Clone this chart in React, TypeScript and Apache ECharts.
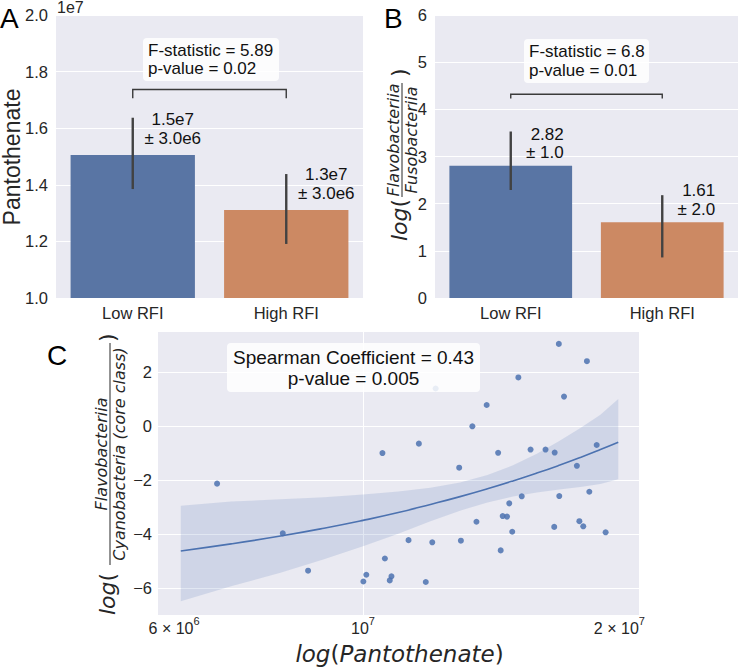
import React, { useEffect, useRef } from "react";
import * as echarts from "echarts";

// ---------- data ----------
const groups = ["Low RFI", "High RFI"];
const barColors = ["#5975A4", "#CC8963"];

// Panel A: Pantothenate
const pantoMean = [1.505e7, 1.311e7];
const pantoErrLow = [1.385e7, 1.191e7];
const pantoErrHigh = [1.637e7, 1.438e7];
const pantoText = ["1.5e7\n± 3.0e6", "1.3e7\n± 3.0e6"];
const pantoBracket = [1.737e7, 1.706e7];
const pantoStats = ["F-statistic = 5.89", "p-value = 0.02"];

// Panel B: log(Flavobacteriia / Fusobacteriia)
const ratioMean = [2.805, 1.605];
const ratioErrLow = [2.29, 0.86];
const ratioErrHigh = [3.53, 2.18];
const ratioText = ["2.82\n± 1.0", "1.61\n± 2.0"];
const ratioBracket = [4.32, 4.23];
const ratioStats = ["F-statistic = 6.8", "p-value = 0.01"];

// Panel C: scatter + regression
const scatterX = [
  6.74e6, 8.05e6, 8.62e6, 1.054e7, 1.061e7, 1.009e7, 1.001e7, 1.08e7, 1.075e7,
  1.698e7, 1.832e7, 1.522e7, 1.722e7, 1.397e7, 1.344e7, 1.163e7, 1.881e7, 1.441e7,
  1.573e7, 1.638e7, 1.679e7, 1.297e7, 1.783e7, 1.844e7, 1.7e7, 1.536e7, 1.485e7,
  1.459e7, 1.476e7, 1.359e7, 1.497e7, 1.677e7, 1.795e7, 1.814e7, 1.927e7, 1.131e7,
  1.206e7, 1.303e7, 1.451e7, 1.185e7, 1.217e7,
];
const scatterY = [
  -2.13, -3.97, -5.35, -1.0, -4.9, -5.5, -5.75, -5.56, -5.71,
  3.04, 2.4, 1.8, 1.09, 0.78, -0.01, -0.65, -0.7, -0.99,
  -0.87, -0.87, -0.98, -1.54, -1.47, -2.43, -2.59, -2.6, -2.86,
  -3.33, -3.35, -3.54, -3.91, -3.73, -3.52, -3.71, -3.93, -4.22,
  -4.3, -4.24, -4.6, -5.77, 1.39,
];
const fitX = [6.11e6, 7e6, 8e6, 9e6, 1e7, 1.1e7, 1.2e7, 1.3e7, 1.4e7, 1.5e7, 1.6e7, 1.7e7, 1.8e7, 1.9e7, 1.994e7];
const fitY = [-4.62, -4.36, -4.07, -3.78, -3.49, -3.2, -2.9, -2.61, -2.32, -2.03, -1.74, -1.45, -1.16, -0.87, -0.6];
const fitLow = [-6.48, -5.93, -5.43, -4.93, -4.45, -3.98, -3.52, -3.13, -2.83, -2.61, -2.46, -2.35, -2.25, -2.14, -1.97];
const fitHigh = [-2.95, -2.79, -2.71, -2.63, -2.53, -2.42, -2.28, -2.09, -1.81, -1.45, -1.02, -0.55, -0.07, 0.42, 1.0];
const cXLabelValues = [6e6, 1e7, 2e7];
const cXGridValues = [1e7];
const cYTicks = [-6, -4, -2, 0, 2];
const cStats = ["Spearman Coefficient = 0.43", "p-value = 0.005"];

// ---------- styling ----------
const SANS = '"Liberation Sans", Arial, sans-serif';
const MATH = '"DejaVu Sans", sans-serif';
const BG = "#EAEAF2";
const TXT = "#262626";
const ERR = "#424242";

function errRender(texts: string[], dx: number, align: string) {
  return (params: any, api: any) => {
    const i = api.value(0);
    const bot = api.coord([i, api.value(1)]);
    const top = api.coord([i, api.value(2)]);
    const lab = api.coord([i, api.value(3)]);
    return {
      type: "group",
      children: [
        {
          type: "line",
          shape: { x1: top[0], y1: top[1], x2: bot[0], y2: bot[1] },
          style: { stroke: ERR, lineWidth: 2.4 },
        },
        {
          type: "text",
          x: lab[0] + dx,
          y: lab[1] - 9.5,
          style: {
            text: texts[params.dataIndex],
            fill: "#111",
            fontFamily: SANS,
            fontSize: 17,
            lineHeight: 18.5,
            align,
            verticalAlign: "top",
          },
        },
      ],
    };
  };
}

function bracketRender(params: any, api: any) {
  const a0 = api.coord([api.value(0), api.value(3)]);
  const a1 = api.coord([api.value(0), api.value(2)]);
  const b1 = api.coord([api.value(1), api.value(2)]);
  const b0 = api.coord([api.value(1), api.value(3)]);
  return {
    type: "polyline",
    shape: { points: [a0, a1, b1, b0] },
    style: { stroke: "#3a3a3a", lineWidth: 1.4, fill: null },
  };
}

function bandRender(params: any, api: any) {
  const pts: number[][] = [];
  for (let i = 0; i < fitX.length; i++) pts.push(api.coord([fitX[i], fitHigh[i]]));
  for (let i = fitX.length - 1; i >= 0; i--) pts.push(api.coord([fitX[i], fitLow[i]]));
  return {
    type: "polygon",
    shape: { points: pts },
    style: { fill: "rgba(76,114,176,0.17)" },
  };
}

function text(x: number, y: number, t: string, extra: any = {}) {
  return {
    type: "text",
    x,
    y,
    z: 20,
    style: {
      text: t,
      fill: "#111",
      fontFamily: SANS,
      fontSize: 17,
      align: "left",
      verticalAlign: "middle",
      ...extra,
    },
  };
}

function fracLabel(x: number, y: number, num: string, den: string, fracStart: number, fracEnd: number, closeAt: number, offN: number, offD: number) {
  const mid = (fracStart + fracEnd) / 2;
  const it = { fontFamily: MATH, fontStyle: "italic", fontSize: 16, fill: TXT, align: "center", verticalAlign: "middle" };
  return {
    type: "group",
    x,
    y,
    rotation: Math.PI / 2,
    z: 20,
    children: [
      {
        type: "text",
        x: 0,
        y: -3,
        style: {
          text: "{i|log}(",
          fontFamily: MATH,
          fontSize: 22,
          fill: TXT,
          align: "left",
          verticalAlign: "middle",
          rich: { i: { fontFamily: MATH, fontStyle: "italic", fontSize: 22, fill: TXT } },
        },
      },
      { type: "text", x: mid, y: offN, style: { ...it, text: num } },
      { type: "line", shape: { x1: fracStart, y1: 0, x2: fracEnd, y2: 0 }, style: { stroke: TXT, lineWidth: 1 } },
      { type: "text", x: mid, y: offD, style: { ...it, text: den } },
      {
        type: "text",
        x: closeAt,
        y: -3,
        style: { text: ")", fontFamily: MATH, fontSize: 22, fill: TXT, align: "left", verticalAlign: "middle" },
      },
    ],
  };
}

function supLabel(v: number) {
  const e = Math.floor(Math.log10(v) + 1e-9);
  const m = Math.round(v / Math.pow(10, e));
  return m === 1 ? `{n|10}{s|${e}}` : `{n|${m} × 10}{s|${e}}`;
}

export default function App() {
  const ref = useRef<HTMLDivElement>(null);
  useEffect(() => {
    if (!ref.current) return;
    const chart = echarts.init(ref.current, null, { renderer: "svg" });
    const gridBase = { show: true, backgroundColor: BG, borderWidth: 0, containLabel: false, outerBoundsMode: "none" };
    const catAxis = (gi: number) => ({
      type: "category",
      gridIndex: gi,
      data: groups,
      axisLine: { show: false },
      axisTick: { show: false },
      axisLabel: { color: TXT, fontFamily: SANS, fontSize: 16.5, margin: 6 },
      splitLine: { show: false },
    });
    const option: any = {
      animation: false,
      backgroundColor: "#fff",
      grid: [
        { ...gridBase, left: 56, top: 15, width: 307, height: 283 },
        { ...gridBase, left: 435, top: 15, width: 303, height: 283 },
        { ...gridBase, left: 158, top: 332, width: 481, height: 283 },
      ],
      xAxis: [
        catAxis(0),
        catAxis(1),
        {
          type: "log",
          gridIndex: 2,
          logBase: 10,
          min: 5.745e6,
          max: 2.109e7,
          axisLine: { show: false },
          axisTick: { show: false, customValues: cXGridValues },
          splitLine: { show: true, lineStyle: { color: "#fff", width: 1 } },
          axisLabel: {
            customValues: cXLabelValues,
            margin: 4,
            color: TXT,
            formatter: (v: number) => supLabel(v),
            rich: {
              n: { fontFamily: SANS, fontSize: 16, lineHeight: 18, color: TXT },
              s: { fontFamily: SANS, fontSize: 11, lineHeight: 12, padding: [0, 0, 14, 0], color: TXT },
            },
          },
        },
      ],
      yAxis: [
        {
          type: "value",
          gridIndex: 0,
          min: 1e7,
          max: 2e7,
          interval: 2e6,
          axisLine: { show: false },
          axisTick: { show: false },
          splitLine: { lineStyle: { color: "#fff", width: 1 } },
          axisLabel: { color: TXT, fontFamily: SANS, fontSize: 16.5, margin: 8, formatter: (v: number) => (v / 1e7).toFixed(1) },
        },
        {
          type: "value",
          gridIndex: 1,
          min: 0,
          max: 6,
          interval: 1,
          axisLine: { show: false },
          axisTick: { show: false },
          splitLine: { lineStyle: { color: "#fff", width: 1 } },
          axisLabel: { color: TXT, fontFamily: SANS, fontSize: 16.5, margin: 8 },
        },
        {
          type: "value",
          gridIndex: 2,
          min: -6.99,
          max: 3.48,
          axisLine: { show: false },
          axisTick: { show: false, customValues: cYTicks },
          splitLine: { lineStyle: { color: "#fff", width: 1 } },
          axisLabel: {
            customValues: cYTicks,
            color: TXT,
            fontFamily: SANS,
            fontSize: 16.5,
            margin: 6,
            formatter: (v: number) => (v < 0 ? "\u2212" + Math.abs(v) : String(v)),
          },
        },
      ],
      series: [
        {
          type: "bar",
          xAxisIndex: 0,
          yAxisIndex: 0,
          barCategoryGap: "19%",
          clip: true,
          data: pantoMean.map((v, i) => ({ value: v, itemStyle: { color: barColors[i] } })),
        },
        {
          type: "custom",
          xAxisIndex: 0,
          yAxisIndex: 0,
          z: 5,
          renderItem: errRender(pantoText, 40, "center"),
          data: groups.map((_, i) => [i, pantoErrLow[i], pantoErrHigh[i], pantoMean[i] + 1.24e6]),
        },
        {
          type: "custom",
          xAxisIndex: 0,
          yAxisIndex: 0,
          z: 5,
          renderItem: bracketRender,
          data: [[0, 1, pantoBracket[0], pantoBracket[1]]],
        },
        {
          type: "bar",
          xAxisIndex: 1,
          yAxisIndex: 1,
          barCategoryGap: "19%",
          data: ratioMean.map((v, i) => ({ value: v, itemStyle: { color: barColors[i] } })),
        },
        {
          type: "custom",
          xAxisIndex: 1,
          yAxisIndex: 1,
          z: 5,
          renderItem: errRender(ratioText, 53, "right"),
          data: groups.map((_, i) => [i, ratioErrLow[i], ratioErrHigh[i], ratioMean[i] + 0.665]),
        },
        {
          type: "custom",
          xAxisIndex: 1,
          yAxisIndex: 1,
          z: 5,
          renderItem: bracketRender,
          data: [[0, 1, ratioBracket[0], ratioBracket[1]]],
        },
        {
          type: "custom",
          xAxisIndex: 2,
          yAxisIndex: 2,
          z: 2,
          renderItem: bandRender,
          data: [[fitX[0], fitY[0]]],
        },
        {
          type: "line",
          xAxisIndex: 2,
          yAxisIndex: 2,
          z: 3,
          smooth: true,
          showSymbol: false,
          lineStyle: { color: "#4C72B0", width: 1.6 },
          data: fitX.map((x, i) => [x, fitY[i]]),
        },
        {
          type: "scatter",
          xAxisIndex: 2,
          yAxisIndex: 2,
          z: 4,
          symbolSize: 6,
          itemStyle: { color: "#4C72B0", opacity: 0.85 },
          data: scatterX.map((x, i) => [x, scatterY[i]]),
        },
      ],
      graphic: [
        text(0, 18, "A", { fontSize: 28, fill: "#000" }),
        text(384, 18, "B", { fontSize: 28, fill: "#000" }),
        text(47, 355, "C", { fontSize: 28, fill: "#000" }),
        text(57, 7, "1e7", { fontSize: 16, fill: TXT }),
        {
          type: "text",
          x: 11.5,
          y: 157,
          rotation: Math.PI / 2,
          z: 20,
          style: { text: "Pantothenate", fill: TXT, fontFamily: SANS, fontSize: 23, align: "center", verticalAlign: "middle" },
        },
        { type: "rect", z: 15, shape: { x: 143, y: 38, width: 136, height: 43, r: 4 }, style: { fill: "rgba(255,255,255,0.85)" } },
        text(148, 50, pantoStats[0]),
        text(148, 68.5, pantoStats[1]),
        { type: "rect", z: 15, shape: { x: 524, y: 39, width: 125, height: 44, r: 4 }, style: { fill: "rgba(255,255,255,0.85)" } },
        text(529, 51.5, ratioStats[0]),
        text(529, 70.5, ratioStats[1]),
        { type: "rect", z: 15, shape: { x: 227, y: 343, width: 253, height: 49, r: 4 }, style: { fill: "rgba(255,255,255,0.85)" } },
        text(353.5, 357, cStats[0], { fontSize: 19, align: "center" }),
        text(353.5, 378, cStats[1], { fontSize: 19, align: "center" }),
        fracLabel(402, 241, "Flavobacteriia", "Fusobacteriia", 44, 158, 164, -8.5, 9),
        fracLabel(110, 615, "Flavobacteriia", "Cyanobacteria (core class)", 50, 272, 273, -8.5, 9.5),
        {
          type: "text",
          x: 399.5,
          y: 654,
          z: 20,
          style: {
            text: "{i|log}({i|Pantothenate})",
            fontFamily: MATH,
            fontSize: 23,
            fill: TXT,
            align: "center",
            verticalAlign: "middle",
            rich: { i: { fontFamily: MATH, fontStyle: "italic", fontSize: 23, fill: TXT } },
          },
        },
      ],
    };
    chart.setOption(option);
    return () => chart.dispose();
  }, []);
  return <div ref={ref} style={{ position: "fixed", left: 0, top: 0, width: 744, height: 670 }} />;
}
